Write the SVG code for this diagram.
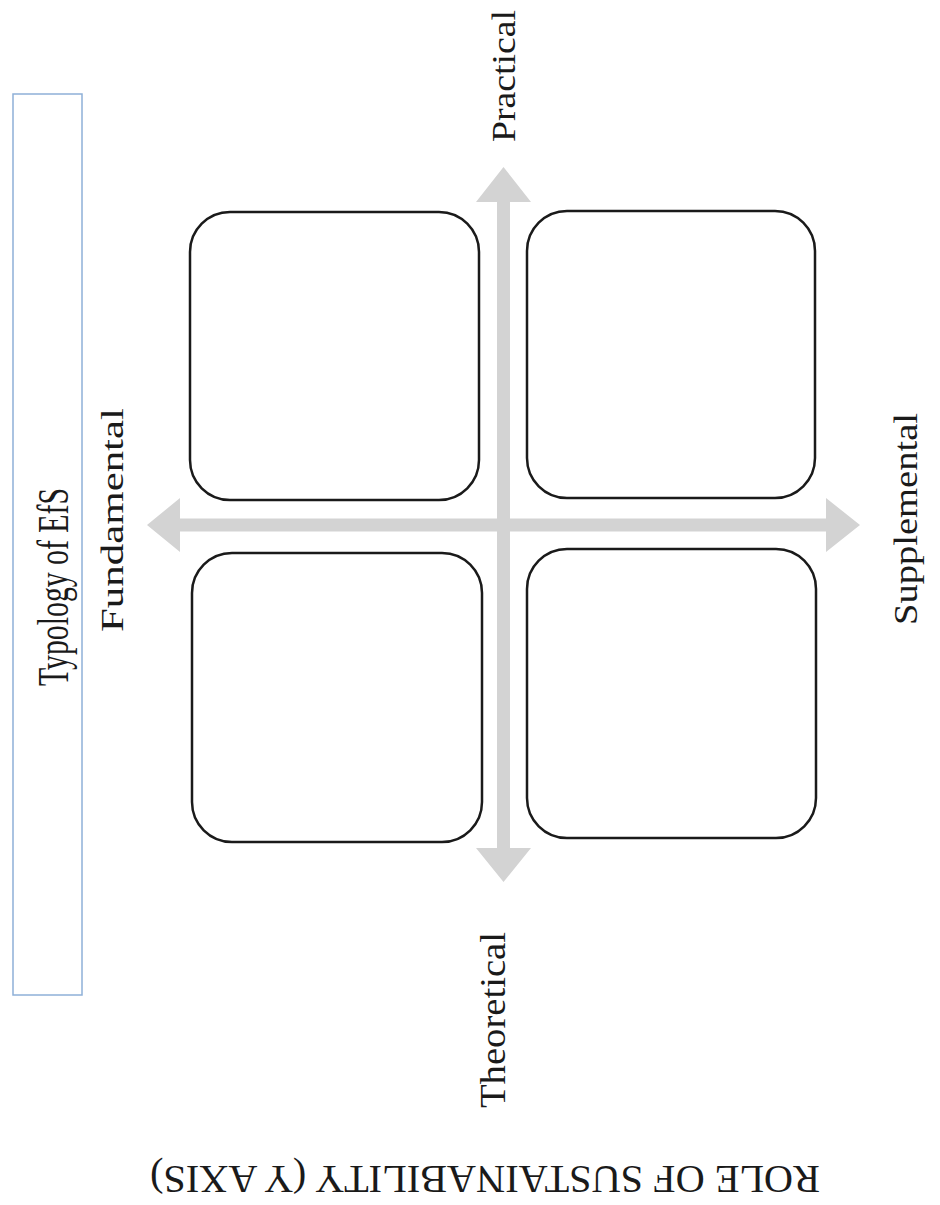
<svg xmlns="http://www.w3.org/2000/svg" width="940" height="1205" viewBox="0 0 940 1205">
<style>
.bg{fill:#ffffff}
.quad{fill:#ffffff;stroke:#1a1a1a;stroke-width:2.5}
.axis{fill:#d3d3d3;stroke:none}
.frame{fill:none;stroke:#8eb0d8;stroke-width:1.5}
.lbl{font-family:"Liberation Serif","Times New Roman",serif;fill:#1a1a1a;text-anchor:middle}
</style>
<rect class="bg" x="0" y="0" width="940" height="1205"/>
<g id="connectors">
<polygon class="axis" points="503.5,167 531,202 510,202 510,848 531,848 503.5,882 476,848 497,848 497,202 476,202"/>
<polygon class="axis" points="147,525 180,498 180,518.5 826,518.5 826,498 860,525 826,552 826,531.5 180,531.5 180,552"/>
</g>
<g id="typology">
<rect class="frame" x="13" y="94" width="69" height="901"/>
<text class="lbl" x="68" y="587" font-size="45" textLength="198" lengthAdjust="spacingAndGlyphs" transform="rotate(-90 68 587)">Typology of EfS</text>
</g>
<g id="quad-top-left"><rect class="quad" x="190" y="212" width="289" height="288" rx="40" ry="40"/></g>
<g id="quad-top-right"><rect class="quad" x="527" y="211" width="288" height="287" rx="40" ry="40"/></g>
<g id="quad-bottom-left"><rect class="quad" x="192" y="553" width="290" height="289" rx="40" ry="40"/></g>
<g id="quad-bottom-right"><rect class="quad" x="527" y="549" width="289" height="289" rx="40" ry="40"/></g>
<g id="label-practical"><text class="lbl" x="515" y="76" font-size="33" textLength="132" lengthAdjust="spacingAndGlyphs" transform="rotate(-90 515 76)">Practical</text></g>
<g id="label-theoretical"><text class="lbl" x="505" y="1020" font-size="36" textLength="176" lengthAdjust="spacingAndGlyphs" transform="rotate(-90 505 1020)">Theoretical</text></g>
<g id="label-fundamental"><text class="lbl" x="123" y="520" font-size="32" textLength="224" lengthAdjust="spacingAndGlyphs" transform="rotate(-90 123 520)">Fundamental</text></g>
<g id="label-supplemental"><text class="lbl" x="917" y="519" font-size="33" textLength="212" lengthAdjust="spacingAndGlyphs" transform="rotate(-90 917 519)">Supplemental</text></g>
<g id="label-yaxis"><text class="lbl" x="485" y="1166" font-size="40" textLength="670" lengthAdjust="spacingAndGlyphs" transform="rotate(180 485 1166)">ROLE OF SUSTAINABILITY (Y AXIS)</text></g>
</svg>
